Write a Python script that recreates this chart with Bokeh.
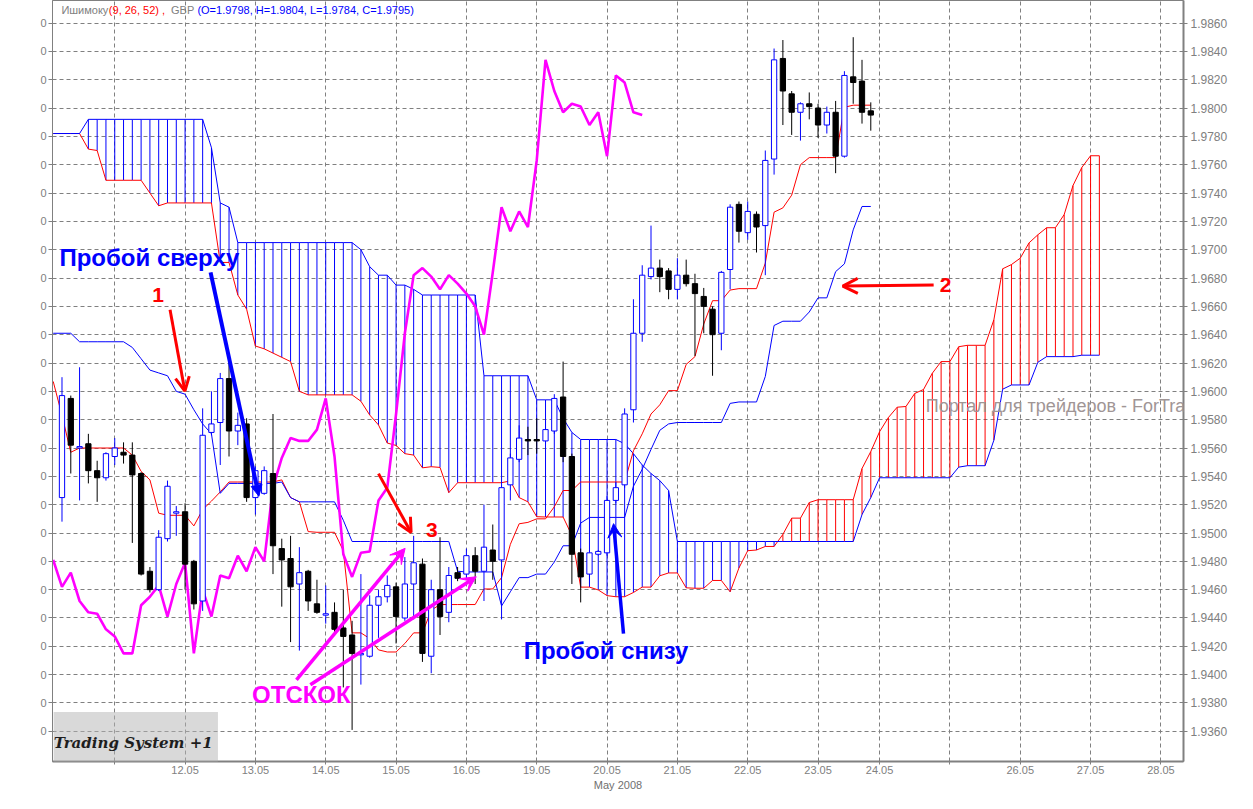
from bokeh.plotting import figure
from bokeh.models import (Range1d, FixedTicker, PrintfTickFormatter, LinearAxis,
                          Label, Arrow, OpenHead, VeeHead, NormalHead)
from bokeh.embed import file_html
from bokeh.resources import INLINE

# ---------------- data (GBP, bars indexed from the 11.05 grid line) ----------------
bar_x = list(range(-6, 87))
opens = [1.9525, 1.9595, 1.9560, 1.9563, 1.9544, 1.9539, 1.9554, 1.9557, 1.9555, 1.9542,
         1.9473, 1.9460, 1.9496, 1.9514, 1.9515, 1.9480, 1.9452, 1.9571, 1.9578, 1.9609,
         1.9572, 1.9577, 1.9525, 1.9528, 1.9542, 1.9489, 1.9482, 1.9464, 1.9473, 1.9450,
         1.9442, 1.9444, 1.9433, 1.9428, 1.9414, 1.9413, 1.9449, 1.9455, 1.9462, 1.9440,
         1.9464, 1.9478, 1.9413, 1.9460, 1.9444, 1.9472, 1.9471, 1.9484, 1.9473, 1.9488,
         1.9481, 1.9534, 1.9552, 1.9566, 1.9566, 1.9565, 1.9572, 1.9596, 1.9554, 1.9486,
         1.9471, 1.9485, 1.9486, 1.9523, 1.9534, 1.9587, 1.9641, 1.9681, 1.9687, 1.9685,
         1.9672, 1.9682, 1.9676, 1.9667, 1.9658, 1.9641, 1.9686, 1.9732, 1.9712, 1.9725,
         1.9717, 1.9764, 1.9835, 1.9810, 1.9797, 1.9803, 1.9800, 1.9788, 1.9797, 1.9766,
         1.9822, 1.9819, 1.9798]
highs = [1.9610, 1.9597, 1.9617, 1.9570, 1.9551, 1.9557, 1.9567, 1.9564, 1.9564, 1.9543,
         1.9476, 1.9502, 1.9537, 1.9519, 1.9521, 1.9481, 1.9588, 1.9600, 1.9613, 1.9627,
         1.9585, 1.9581, 1.9547, 1.9547, 1.9584, 1.9496, 1.9498, 1.9490, 1.9474, 1.9467,
         1.9463, 1.9451, 1.9460, 1.9438, 1.9471, 1.9456, 1.9460, 1.9470, 1.9465, 1.9483,
         1.9498, 1.9482, 1.9467, 1.9497, 1.9476, 1.9476, 1.9489, 1.9490, 1.9520, 1.9506,
         1.9536, 1.9556, 1.9576, 1.9575, 1.9581, 1.9579, 1.9598, 1.9621, 1.9556, 1.9489,
         1.9488, 1.9488, 1.9526, 1.9536, 1.9588, 1.9665, 1.9689, 1.9717, 1.9693, 1.9687,
         1.9694, 1.9693, 1.9683, 1.9673, 1.9660, 1.9685, 1.9732, 1.9734, 1.9734, 1.9727,
         1.9770, 1.9842, 1.9848, 1.9812, 1.9804, 1.9811, 1.9803, 1.9801, 1.9805, 1.9826,
         1.9850, 1.9834, 1.9804]
lows = [1.9508, 1.9542, 1.9523, 1.9535, 1.9522, 1.9537, 1.9548, 1.9549, 1.9493, 1.9470,
        1.9458, 1.9459, 1.9494, 1.9498, 1.9460, 1.9446, 1.9445, 1.9569, 1.9548, 1.9554,
        1.9562, 1.9522, 1.9513, 1.9527, 1.9471, 1.9448, 1.9423, 1.9417, 1.9445, 1.9443,
        1.9436, 1.9428, 1.9391, 1.9361, 1.9393, 1.9412, 1.9426, 1.9451, 1.9422, 1.9438,
        1.9439, 1.9409, 1.9401, 1.9428, 1.9437, 1.9466, 1.9467, 1.9464, 1.9452, 1.9467,
        1.9439, 1.9523, 1.9550, 1.9555, 1.9556, 1.9563, 1.9570, 1.9550, 1.9464, 1.9451,
        1.9464, 1.9484, 1.9484, 1.9521, 1.9532, 1.9578, 1.9635, 1.9679, 1.9670, 1.9665,
        1.9665, 1.9674, 1.9625, 1.9641, 1.9611, 1.9629, 1.9672, 1.9705, 1.9707, 1.9698,
        1.9682, 1.9753, 1.9788, 1.9781, 1.9777, 1.9792, 1.9779, 1.9782, 1.9754, 1.9765,
        1.9803, 1.9789, 1.9784]
closes = [1.9597, 1.9562, 1.9561, 1.9544, 1.9539, 1.9556, 1.9560, 1.9555, 1.9541, 1.9471,
          1.9460, 1.9497, 1.9533, 1.9515, 1.9478, 1.9450, 1.9569, 1.9577, 1.9609, 1.9572,
          1.9576, 1.9525, 1.9544, 1.9544, 1.9491, 1.9481, 1.9462, 1.9472, 1.9452, 1.9444,
          1.9443, 1.9432, 1.9427, 1.9415, 1.9415, 1.9449, 1.9455, 1.9463, 1.9441, 1.9464,
          1.9479, 1.9415, 1.9460, 1.9441, 1.9470, 1.9468, 1.9484, 1.9473, 1.9490, 1.9480,
          1.9532, 1.9553, 1.9567, 1.9565, 1.9565, 1.9573, 1.9595, 1.9554, 1.9485, 1.9469,
          1.9486, 1.9487, 1.9523, 1.9532, 1.9584, 1.9641, 1.9682, 1.9687, 1.9681, 1.9672,
          1.9682, 1.9676, 1.9669, 1.9660, 1.9640, 1.9684, 1.9730, 1.9713, 1.9727, 1.9716,
          1.9763, 1.9834, 1.9812, 1.9797, 1.9803, 1.9801, 1.9788, 1.9797, 1.9766, 1.9823,
          1.9818, 1.9797, 1.9795]

line_x = list(range(-7, 87))
tenkan = [1.9607, 1.9583, 1.9557, 1.9560, 1.9560, 1.9560, 1.9560, 1.9560, 1.9560, 1.9555,
          1.95435, 1.95375, 1.9514, 1.95125, 1.95125, 1.95125, 1.9505, 1.95165, 1.95225, 1.9529,
          1.9536, 1.9536, 1.9536, 1.9536, 1.9536, 1.9536, 1.95375, 1.9525, 1.9522, 1.9501,
          1.95005, 1.95005, 1.95005, 1.94875, 1.94295, 1.94295, 1.94255, 1.94175, 1.9416, 1.9416,
          1.9422, 1.94295, 1.94295, 1.94455, 1.94495, 1.94495, 1.94495, 1.94495, 1.94495, 1.94605,
          1.94605, 1.94685, 1.9492, 1.95065, 1.95075, 1.9510, 1.9510, 1.95185, 1.9530, 1.9530,
          1.9536, 1.9536, 1.9536, 1.9536, 1.9536, 1.9536, 1.9558, 1.9570, 1.9584, 1.95905,
          1.96005, 1.96005, 1.9619, 1.96245, 1.96475, 1.9664, 1.9664, 1.96715, 1.96725, 1.96725,
          1.96725, 1.96905, 1.97265, 1.97295, 1.97385, 1.9760, 1.9765, 1.9765, 1.9765, 1.9765,
          1.98005, 1.9802, 1.9802, 1.9802]
kijun = [1.9641, 1.9641, 1.9641, 1.9635, 1.9635, 1.9635, 1.9635, 1.9635, 1.9635, 1.9631,
         1.9623, 1.9615, 1.9613, 1.9611, 1.9600, 1.9598, 1.9587, 1.9577, 1.9570, 1.9528,
         1.9535, 1.9535, 1.9535, 1.9535, 1.9535, 1.9535, 1.9536, 1.9525, 1.9522, 1.9522,
         1.9522, 1.9522, 1.9522, 1.9509, 1.9494, 1.9494, 1.9494, 1.9494, 1.9494, 1.9494,
         1.9494, 1.9494, 1.9494, 1.9494, 1.9494, 1.9494, 1.9473, 1.94725, 1.94725, 1.94725,
         1.94725, 1.94485, 1.94585, 1.94685, 1.94685, 1.9471, 1.9471, 1.94795, 1.9491, 1.9491,
         1.9507, 1.9511, 1.9511, 1.9511, 1.9511, 1.9511, 1.9533, 1.9545, 1.9559, 1.95725,
         1.9577, 1.9578, 1.9578, 1.9578, 1.9578, 1.9578, 1.9578, 1.95915, 1.95925, 1.95925,
         1.95925, 1.96105, 1.96465, 1.96495, 1.96495, 1.96495, 1.9656, 1.9666, 1.9666, 1.96845,
         1.9690, 1.9714, 1.97305, 1.97305]

cloud_x = list(range(-7, 113))
span_a = [1.9782, 1.9782, 1.9782, 1.9782, 1.9771, 1.9770, 1.9749, 1.9749, 1.9749, 1.9749,
          1.9749, 1.9740, 1.9731, 1.9733, 1.9733, 1.9733, 1.9733, 1.9733, 1.9733, 1.9691,
          1.9691, 1.9668, 1.9658, 1.9632, 1.9630, 1.9627, 1.9624, 1.9621, 1.9600, 1.95975,
          1.95975, 1.95975, 1.95975, 1.95975, 1.95975, 1.9593, 1.95833, 1.95763, 1.95635, 1.95618,
          1.9556, 1.9555, 1.9546, 1.95468, 1.95463, 1.95285, 1.95355, 1.95355, 1.95355, 1.95355,
          1.95355, 1.95355, 1.95368, 1.9525, 1.9522, 1.95115, 1.95113, 1.95113, 1.95113, 1.94983,
          1.94618, 1.94618, 1.94598, 1.94558, 1.9455, 1.9455, 1.9458, 1.94618, 1.94618, 1.94698,
          1.94718, 1.94718, 1.94613, 1.9461, 1.9461, 1.94665, 1.94665, 1.94585, 1.94753, 1.94875,
          1.9488, 1.94905, 1.94905, 1.9499, 1.95105, 1.95105, 1.95215, 1.95235, 1.95235, 1.95235,
          1.95235, 1.95235, 1.95455, 1.95575, 1.95715, 1.95815, 1.95888, 1.95893, 1.95985, 1.96013,
          1.96128, 1.9621, 1.9621, 1.96315, 1.96325, 1.96325, 1.96325, 1.96505, 1.96865, 1.96895,
          1.9694, 1.97048, 1.97105, 1.97155, 1.97155, 1.97248, 1.97453, 1.9758, 1.97663, 1.97663]
span_b = [1.9782, 1.9782, 1.9782, 1.9782, 1.9792, 1.9792, 1.9792, 1.9792, 1.9792, 1.9792,
          1.9792, 1.9792, 1.9792, 1.9792, 1.9792, 1.9792, 1.9792, 1.9792, 1.9772, 1.9733,
          1.9730, 1.9705, 1.9705, 1.9705, 1.9705, 1.9705, 1.9705, 1.9705, 1.9705, 1.9705,
          1.9705, 1.9705, 1.9705, 1.9705, 1.9705, 1.9700, 1.9688, 1.9682, 1.9682, 1.9675,
          1.9675, 1.9672, 1.9668, 1.9668, 1.9668, 1.9668, 1.9668, 1.9668, 1.9668, 1.9611,
          1.9611, 1.9611, 1.9611, 1.9611, 1.9611, 1.9594, 1.9594, 1.9594, 1.9581, 1.9571,
          1.9566, 1.9566, 1.9566, 1.9566, 1.9566, 1.9563, 1.9556, 1.9548, 1.9542, 1.9537,
          1.9530, 1.9494, 1.9494, 1.9494, 1.9494, 1.9494, 1.9494, 1.9494, 1.9494, 1.9494,
          1.9494, 1.9494, 1.9494, 1.9494, 1.9494, 1.9494, 1.9494, 1.9494, 1.9494, 1.9494,
          1.9494, 1.9494, 1.9513, 1.9525, 1.9539, 1.9539, 1.9539, 1.9539, 1.9539, 1.9539,
          1.9539, 1.9539, 1.9539, 1.95465, 1.95475, 1.95475, 1.95475, 1.95655, 1.96015, 1.96045,
          1.96045, 1.96045, 1.96205, 1.96245, 1.96245, 1.96245, 1.96245, 1.96255, 1.96255, 1.96255]

price_ticks = [1.936, 1.938, 1.94, 1.942, 1.944, 1.946, 1.948, 1.95, 1.952, 1.954,
               1.956, 1.958, 1.96, 1.962, 1.964, 1.966, 1.968, 1.97, 1.972, 1.974,
               1.976, 1.978, 1.98, 1.982, 1.984, 1.986]
date_ticks = [0, 8, 16, 24, 32, 40, 48, 56, 64, 72, 80, 87, 95, 103, 111, 119]
date_labels = ["", "12.05", "13.05", "14.05", "15.05", "16.05", "19.05", "20.05",
               "21.05", "22.05", "23.05", "24.05", "", "26.05", "27.05", "28.05"]

# chikou = closes re-indexed 26 bars back
k0 = bar_x.index(19)
chikou_x = [i - 26 for i in bar_x[k0:]]
chikou_y = closes[k0:]

# ---------------- figure ----------------
GRAY = "#808080"
FONT = "Liberation Sans"
p = figure(width=1237, height=793, output_backend="svg", toolbar_location=None,
           x_range=Range1d(-7.08, 121.57), y_range=Range1d(1.93387, 1.98759),
           x_axis_location="below", y_axis_location="right",
           min_border_left=52, min_border_right=54, min_border_top=0, min_border_bottom=29)
p.background_fill_color = "white"
p.border_fill_color = "white"
p.outline_line_color = GRAY

xa = p.xaxis[0]
xa.ticker = FixedTicker(ticks=date_ticks)
xa.major_label_overrides = {t: s for t, s in zip(date_ticks, date_labels)}
xa.major_label_text_font = FONT
xa.major_label_text_font_size = "11px"
xa.major_label_text_color = GRAY
xa.major_label_standoff = 1
xa.axis_line_color = GRAY
xa.axis_line_width = 2
xa.major_tick_in = 0
xa.major_tick_out = 3
xa.major_tick_line_color = GRAY
xa.minor_tick_line_color = None
xa.axis_label = "May 2008"
xa.axis_label_text_font = FONT
xa.axis_label_text_font_size = "11px"
xa.axis_label_text_font_style = "normal"
xa.axis_label_text_color = "#707070"
xa.axis_label_standoff = 2

ya = p.yaxis[0]
ya.ticker = FixedTicker(ticks=price_ticks)
ya.formatter = PrintfTickFormatter(format="%.4f")
ya.major_label_text_font = FONT
ya.major_label_text_font_size = "12px"
ya.major_label_text_color = GRAY
ya.axis_line_color = GRAY
ya.axis_line_width = 2
ya.major_tick_in = 0
ya.major_tick_out = 4
ya.major_tick_line_color = GRAY
ya.minor_tick_line_color = None
ya.major_label_standoff = 3

la = LinearAxis(ticker=FixedTicker(ticks=price_ticks),
                major_label_overrides={t: "0" for t in price_ticks})
la.major_label_text_font = FONT
la.major_label_text_font_size = "11px"
la.major_label_text_color = GRAY
la.axis_line_color = GRAY
la.major_tick_in = 0
la.major_tick_out = 4
la.major_tick_line_color = GRAY
la.minor_tick_line_color = None
la.major_label_standoff = 2
p.add_layout(la, "left")

p.xgrid.ticker = FixedTicker(ticks=date_ticks)
p.ygrid.ticker = FixedTicker(ticks=price_ticks)
for g in (p.xgrid[0], p.ygrid[0]):
    g.grid_line_color = GRAY
    g.grid_line_dash = "4 3"
    g.grid_line_width = 1

# ---------------- cloud hatching ----------------
hx, ha, hb, hc = [], [], [], []
for x, a, b in zip(cloud_x, span_a, span_b):
    if a != b:
        hx.append(x)
        ha.append(a)
        hb.append(b)
        hc.append("#0000ff" if b > a else "#ff0000")
p.segment(x0=hx, y0=ha, x1=hx, y1=hb, line_color=hc, line_width=1)
p.line(cloud_x, span_a, line_color="#ff0000", line_width=1)
p.line(cloud_x, span_b, line_color="#0000ff", line_width=1)

# ---------------- ichimoku lines ----------------
p.line(line_x, tenkan, line_color="#ff0000", line_width=1)
p.line(line_x, kijun, line_color="#0000ff", line_width=1)
p.line(chikou_x, chikou_y, line_color="#ff00ff", line_width=2.6)

# ---------------- candles ----------------
up = [c >= o for o, c in zip(opens, closes)]
wick_col = ["#0000ff" if u else "#000000" for u in up]
body_fill = ["#ffffff" if u else "#000000" for u in up]
tops = [max(o, c) for o, c in zip(opens, closes)]
bots = [min(o, c) for o, c in zip(opens, closes)]
p.segment(x0=bar_x, y0=lows, x1=bar_x, y1=highs, line_color=wick_col, line_width=1)
p.vbar(x=bar_x, width=0.6, top=tops, bottom=bots, fill_color=body_fill,
       line_color=wick_col, line_width=1)

# ---------------- header text ----------------
hy = 1.9869
for tx, txt, col in [(-6.07, "Ишимоку", GRAY),
                     (-0.67, "(9, 26, 52)  ,", "#ff0000"),
                     (6.4, "GBP", GRAY),
                     (9.4, "(O=1.9798, H=1.9804, L=1.9784, C=1.9795)", "#0000ff")]:
    p.add_layout(Label(x=tx, y=hy, text=txt, text_font=FONT, text_font_size="11px",
                       text_color=col, text_baseline="middle", text_align="left"))

# ---------------- annotations ----------------
def lab(x, y, txt, col, size, align="left", style="bold", font=FONT):
    p.add_layout(Label(x=x, y=y, text=txt, text_font=font, text_font_size=size,
                       text_font_style=style, text_color=col,
                       text_baseline="middle", text_align=align))

lab(-6.29, 1.96944, "Пробой сверху", "#0000ff", "24px")
lab(4.94, 1.96680, "1", "#ff0000", "21px", "center")
lab(94.5, 1.96750, "2", "#ff0000", "21px", "center")
lab(36.07, 1.95024, "3", "#ff0000", "21px", "center")
lab(15.62, 1.93860, "ОТСКОК", "#ff00ff", "24px")
lab(46.52, 1.94172, "Пробой снизу", "#0000ff", "24px")
lab(92.25, 1.95897, "Портал для трейдеров - ForTrader.ru", "#a09595", "18px", style="normal")

def arrow(x0, y0, x1, y1, col, w, head):
    p.add_layout(Arrow(end=head, x_start=x0, y_start=y0, x_end=x1, y_end=y1,
                       line_color=col, line_width=w))

arrow(6.29, 1.96576, 7.98, 1.96001, "#ff0000", 3,
      OpenHead(size=14, line_color="#ff0000", line_width=3))
arrow(10.90, 1.96840, 16.40, 1.95260, "#0000ff", 4,
      NormalHead(size=11, fill_color="#0000ff", line_color="#0000ff"))
arrow(93.15, 1.96750, 82.81, 1.96743, "#ff0000", 3,
      OpenHead(size=15, line_color="#ff0000", line_width=3))
arrow(30.0, 1.95419, 33.71, 1.95004, "#ff0000", 3,
      OpenHead(size=14, line_color="#ff0000", line_width=3))
arrow(20.67, 1.93964, 33.03, 1.94892, "#ff00ff", 3.5,
      VeeHead(size=15, fill_color="#ff00ff", line_color="#ff00ff"))
arrow(22.25, 1.93929, 41.12, 1.94691, "#ff00ff", 3.5,
      VeeHead(size=15, fill_color="#ff00ff", line_color="#ff00ff"))
arrow(57.87, 1.94290, 56.74, 1.95066, "#0000ff", 3.5,
      VeeHead(size=14, fill_color="#0000ff", line_color="#0000ff"))

# logo in the lower-left corner
p.add_layout(Label(x=-6.95, y=1.93520, text="\n Trading System +1\n",
                   text_font="DejaVu Serif", text_font_size="15px",
                   text_font_style="bold italic", text_color="#1e1e1e",
                   background_fill_color="#b4b4b4", background_fill_alpha=0.5,
                   text_baseline="middle", text_align="left"))

open("out.html", "w").write(file_html(p, INLINE))
